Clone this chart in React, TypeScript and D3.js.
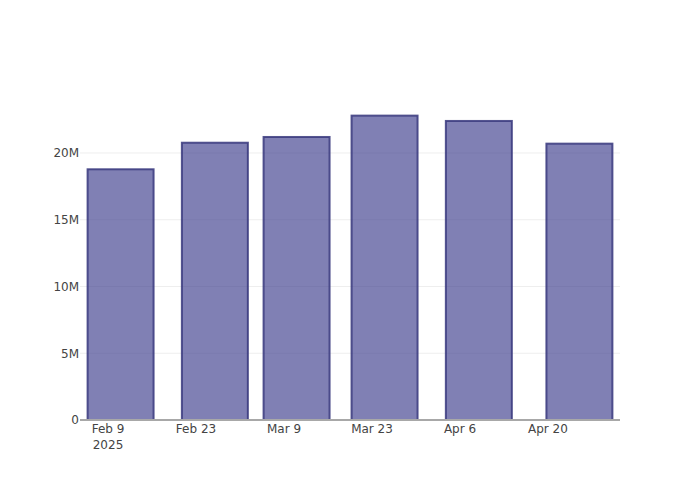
import React from "react";
import * as d3 from "d3";

const barDates = ["2025-02-11", "2025-02-26", "2025-03-11", "2025-03-25", "2025-04-09", "2025-04-25"];
const barValues = [18.78e6, 20.77e6, 21.2e6, 22.8e6, 22.4e6, 20.7e6];
const xTicks = ["2025-02-09", "2025-02-23", "2025-03-09", "2025-03-23", "2025-04-06", "2025-04-20"];
const yTicks = [0, 5e6, 10e6, 15e6, 20e6];
const barWidthDays = 10.5;

const W = 700, H = 500;
const M = { l: 80, r: 80, t: 100, b: 80 };

export default function App() {
  const parse = (s: string) => new Date(s + "T00:00:00Z");
  const x = d3.scaleUtc()
    .domain([d3.utcHour.offset(parse("2025-02-04"), 13), d3.utcHour.offset(parse("2025-05-01"), 11)])
    .range([M.l, W - M.r]);
  const y = d3.scaleLinear().domain([0, 23.97e6]).range([H - M.b, M.t]);
  const fmtY = (v: number) => (v === 0 ? "0" : `${v / 1e6}M`);
  const fmtX = d3.utcFormat("%b %-d");
  const font = "'DejaVu Sans', sans-serif";
  return (
    <svg width={W} height={H} style={{ position: "absolute", left: 0, top: 0, background: "#fff" }}>
      {yTicks.filter(v => v > 0).map(v => (
        <line key={v} x1={M.l} x2={W - M.r} y1={y(v)} y2={y(v)} stroke="#eee" strokeWidth={1} />
      ))}
      {barDates.map((d, i) => {
        const c = parse(d);
        const x0 = x(d3.utcHour.offset(c, -barWidthDays * 12));
        const x1 = x(d3.utcHour.offset(c, barWidthDays * 12));
        return (
          <rect key={d} x={x0} y={y(barValues[i])} width={x1 - x0} height={y(0) - y(barValues[i])}
            fill="rgba(60,60,140,0.65)" stroke="rgba(55,55,125,0.85)" strokeWidth={2} />
        );
      })}
      <line x1={M.l} x2={W - M.r} y1={y(0)} y2={y(0)} stroke="#a8a8a8" strokeWidth={2} />
      {yTicks.map(v => (
        <text key={v} x={M.l - 1} y={y(v) + 4.4} textAnchor="end" fontFamily={font} fontSize={12} fill="#444">{fmtY(v)}</text>
      ))}
      {xTicks.map((t, i) => {
        const d = parse(t);
        return (
          <g key={t}>
            <text x={x(d)} y={y(0) + 13} textAnchor="middle" fontFamily={font} fontSize={12} fill="#444">{fmtX(d)}</text>
            {i === 0 && (
              <text x={x(d)} y={y(0) + 29} textAnchor="middle" fontFamily={font} fontSize={12} fill="#444">{d3.utcFormat("%Y")(d)}</text>
            )}
          </g>
        );
      })}
    </svg>
  );
}
